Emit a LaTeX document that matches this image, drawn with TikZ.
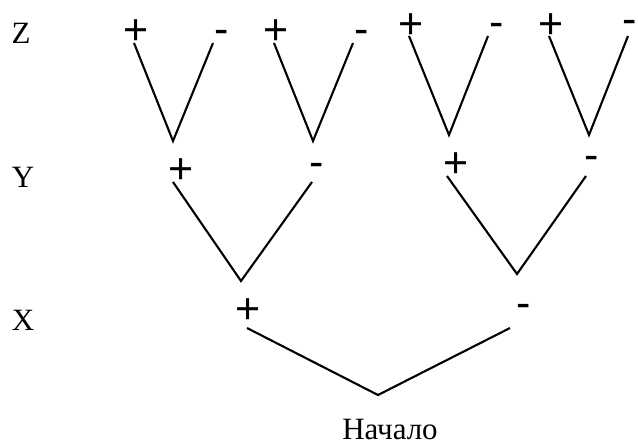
\documentclass[tikz,border=0pt]{standalone}
\usepackage{fontspec}
\setmainfont{Liberation Serif}
\newfontfamily\signfont{Liberation Sans}
\begin{document}
\begin{tikzpicture}[x=1pt,y=-1pt,
  lvl/.style={inner sep=0pt,anchor=base,font=\fontsize{31}{31}\selectfont},
  sgn/.style={inner sep=0pt,anchor=base,font=\signfont\fontsize{43}{43}\selectfont},
  branch/.style={line width=2.1pt,line join=miter}]
\useasboundingbox (0,0) rectangle (638,445);
% level labels
\node[lvl] (Z) at (21,43) {Z};
\node[lvl] (Y) at (23,187) {Y};
\node[lvl] (X) at (23,330) {X};
\node[lvl] (start) at (390,439) {Начало};
% Z level signs
\node[sgn] (zp1) at (136,44) {+};
\node[sgn] (zm1) at (222,43.6) {-};
\node[sgn] (zp2) at (276,44) {+};
\node[sgn] (zm2) at (362,43.6) {-};
\node[sgn] (zp3) at (411,38) {+};
\node[sgn] (zm3) at (497,36.6) {-};
\node[sgn] (zp4) at (551,38) {+};
\node[sgn] (zm4) at (630,33) {-};
% Y level signs
\node[sgn] (yp1) at (181,183) {+};
\node[sgn] (ym1) at (317,176.6) {-};
\node[sgn] (yp2) at (456,177) {+};
\node[sgn] (ym2) at (592,169.6) {-};
% X level signs
\node[sgn] (xp) at (248,323) {+};
\node[sgn] (xm) at (524,317.6) {-};
% branch coordinates
\coordinate (a1) at (134,43);  \coordinate (v1) at (173,141); \coordinate (b1) at (213,43);
\coordinate (a2) at (274,43);  \coordinate (v2) at (313,141); \coordinate (b2) at (353,43);
\coordinate (a3) at (409,36);  \coordinate (v3) at (449,135); \coordinate (b3) at (488,36);
\coordinate (a4) at (549,36);  \coordinate (v4) at (589,135); \coordinate (b4) at (628,36);
\coordinate (c1) at (173,182); \coordinate (w1) at (241,281); \coordinate (d1) at (312,182);
\coordinate (c2) at (447,176); \coordinate (w2) at (517,274); \coordinate (d2) at (586,176);
\coordinate (e)  at (247,328); \coordinate (o)  at (378,395); \coordinate (f)  at (510,328);
% branches
\draw[branch] (a1) -- (v1) -- (b1);
\draw[branch] (a2) -- (v2) -- (b2);
\draw[branch] (a3) -- (v3) -- (b3);
\draw[branch] (a4) -- (v4) -- (b4);
\draw[branch] (c1) -- (w1) -- (d1);
\draw[branch] (c2) -- (w2) -- (d2);
\draw[branch] (e) -- (o) -- (f);
\end{tikzpicture}
\end{document}
